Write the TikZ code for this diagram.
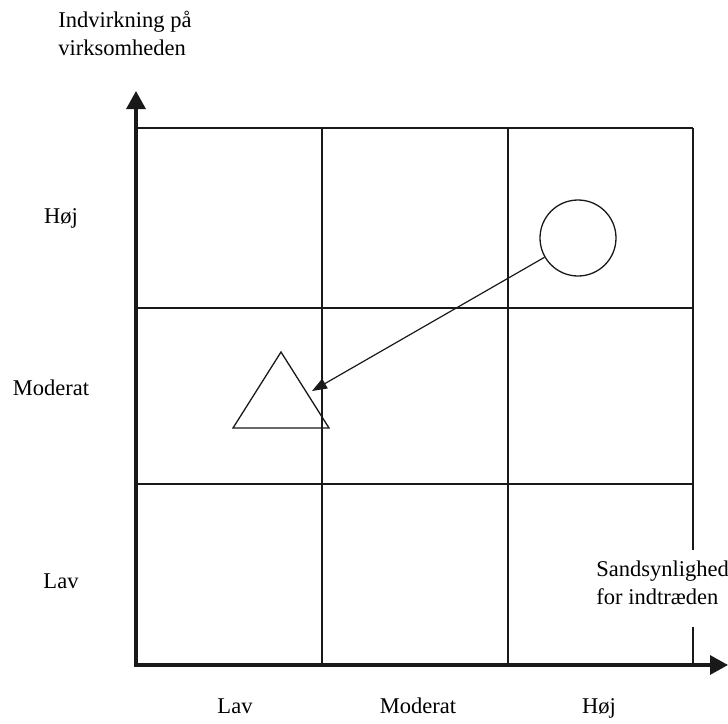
\documentclass[tikz,border=0pt]{standalone}
\usepackage{fontspec}
\setmainfont{Liberation Serif}
\usetikzlibrary{arrows.meta, positioning}

\begin{document}
\begin{tikzpicture}[x=0.5bp, y=-0.5bp, font=\fontsize{11.3}{13.75}\selectfont,
    gridline/.style={line width=1bp, black!90},
    axis/.style={line width=1.6bp, black!90, {Triangle[length=9bp,width=9.5bp]}-{Triangle[length=9bp,width=9.5bp]}},
    figline/.style={line width=0.65bp, black!90},
    every node/.style={inner sep=0pt}]
    \useasboundingbox (0,0) rectangle (728,724);

    % matrix cells
    \foreach \x in {322,508} \draw[gridline] (\x,128) -- (\x,665);
    \foreach \y in {128,308,484} \draw[gridline] (136,\y) -- (693,\y);
    \draw[gridline] (693,128) -- (693,550) (693,627) -- (693,665);
    \draw[axis] (136,91) -- (136,665) -- (728,665);

    % axis labels
    \node[anchor=base west, align=left] (ytitle) at (58,55) {Indvirkning på\\virksomheden};
    \node[anchor=base west, align=left] (xtitle) at (596,604) {Sandsynlighed\\for indtræden};
    \node[anchor=base] (yhigh) at (61,223) {Høj};
    \node[anchor=base] (ymid) at (51,395) {Moderat};
    \node[anchor=base] (ylow) at (61,588) {Lav};
    \node[anchor=base] (xlow) at (235,713) {Lav};
    \node[anchor=base] (xmid) at (418,713) {Moderat};
    \node[anchor=base] (xhigh) at (599,713) {Høj};

    % risk before and after
    \node[circle, draw, figline, minimum size=38bp] (before) at (578,238) {};
    \draw[figline] (281,352) -- (329,428) -- (233,428) -- cycle;
    \coordinate (after) at (312,391);
    \draw[line width=0.6bp, black!90, -{Triangle[length=7.5bp,width=5.5bp]}] (before) -- (after);
\end{tikzpicture}
\end{document}
